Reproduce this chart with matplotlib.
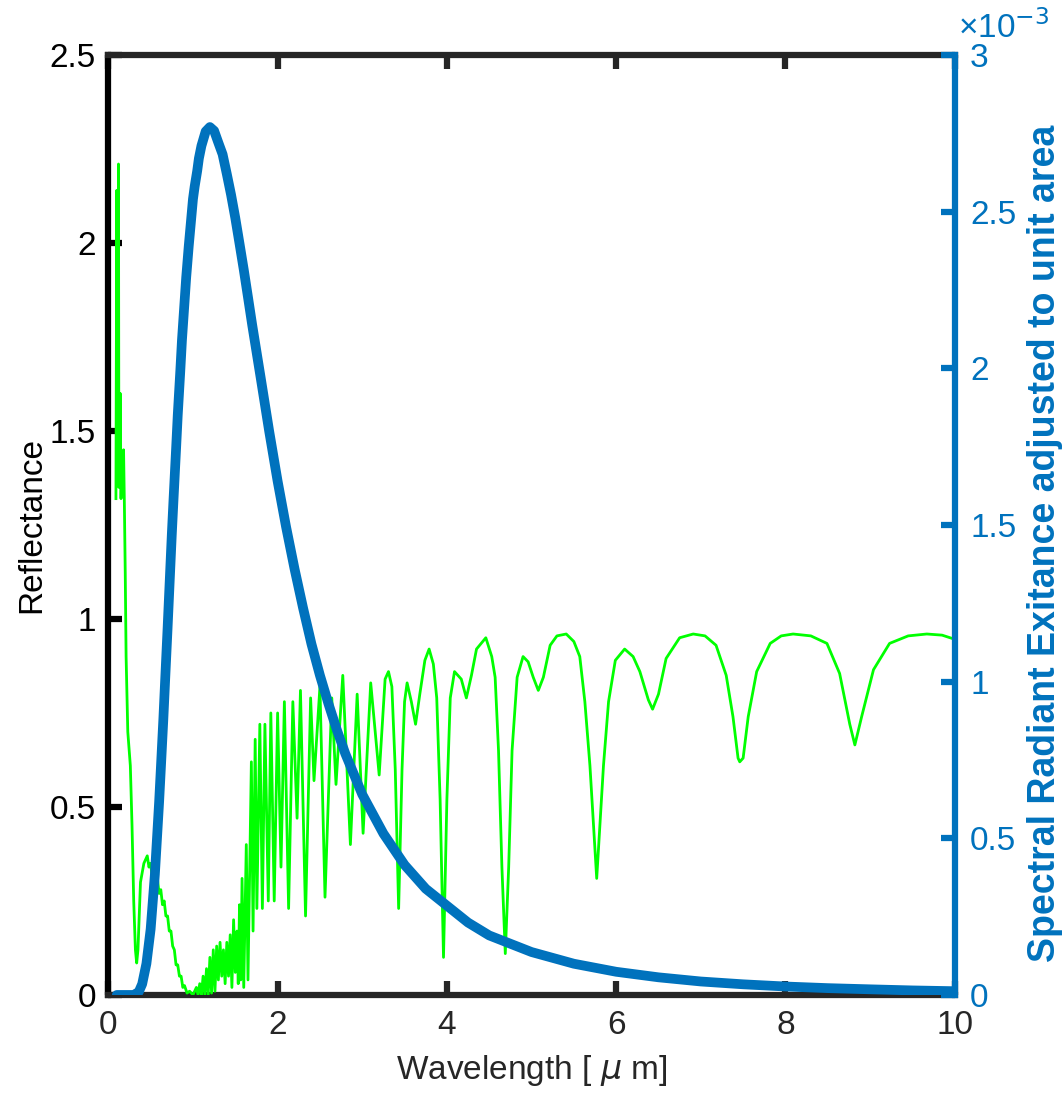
import matplotlib
matplotlib.use("Agg")
import matplotlib.pyplot as plt
from matplotlib.ticker import FuncFormatter

plt.rcParams["font.family"] = ["Liberation Sans", "DejaVu Sans"]

# reflectance (green)
wl_refl = [
    0.09, 0.10, 0.105, 0.11, 0.12, 0.125, 0.13, 0.14, 0.15, 0.16, 0.17, 0.18, 0.19,
    0.20, 0.21, 0.23, 0.26, 0.28, 0.30, 0.32, 0.335, 0.35, 0.38, 0.42, 0.46, 0.48,
    0.50, 0.52, 0.54, 0.56, 0.58, 0.60, 0.62, 0.64, 0.66, 0.68, 0.70, 0.72, 0.74,
    0.76, 0.78, 0.80, 0.82, 0.84, 0.86, 0.88, 0.90, 0.93, 0.96, 1.00,
    1.04, 1.06, 1.08, 1.10, 1.12, 1.14, 1.16, 1.18, 1.20, 1.22, 1.24, 1.26, 1.28,
    1.30, 1.32, 1.34, 1.36, 1.38, 1.40, 1.42, 1.44, 1.46, 1.48, 1.50, 1.52, 1.535,
    1.55, 1.565, 1.58, 1.60, 1.63, 1.65,
    1.69, 1.71, 1.735, 1.755, 1.79, 1.82, 1.85, 1.89, 1.92, 1.96, 2.00, 2.04, 2.08,
    2.13, 2.18, 2.23, 2.27, 2.33, 2.39, 2.43, 2.50, 2.56, 2.64, 2.69, 2.77, 2.86,
    2.94, 3.01, 3.10, 3.20, 3.27, 3.31, 3.35, 3.39, 3.43, 3.47, 3.50, 3.53, 3.58,
    3.63, 3.68, 3.74, 3.79, 3.84, 3.88, 3.92, 3.96, 4.00, 4.04, 4.09, 4.17, 4.23,
    4.29, 4.35, 4.46, 4.53, 4.57, 4.61, 4.65, 4.69, 4.73, 4.77, 4.83, 4.90, 4.96,
    5.02, 5.08, 5.14, 5.22, 5.30, 5.41, 5.50, 5.57, 5.63, 5.69, 5.77, 5.85, 5.91,
    5.99, 6.10, 6.20, 6.28, 6.38, 6.43, 6.50, 6.59, 6.75, 6.91, 7.05, 7.18, 7.30,
    7.38, 7.44, 7.46, 7.50, 7.56, 7.66, 7.82, 7.95, 8.09, 8.30, 8.49, 8.64, 8.76,
    8.82, 8.90, 9.04, 9.23, 9.45, 9.67, 9.85, 10.0,
]
reflectance = [
    1.32, 2.14, 1.40, 1.36, 2.21, 1.35, 1.38, 1.60, 1.32, 1.44, 1.35, 1.45, 1.30,
    1.12, 0.90, 0.70, 0.61, 0.45, 0.25, 0.12, 0.085, 0.12, 0.30, 0.35, 0.37, 0.34,
    0.35, 0.31, 0.32, 0.29, 0.31, 0.27, 0.28, 0.24, 0.25, 0.21, 0.21, 0.17, 0.17,
    0.13, 0.12, 0.08, 0.08, 0.05, 0.05, 0.02, 0.025, 0.005, 0.01, 0.0,
    0.02, 0.0, 0.03, 0.0, 0.05, 0.0, 0.07, 0.0, 0.10, 0.005, 0.12, 0.01, 0.13,
    0.04, 0.14, 0.05, 0.12, 0.03, 0.14, 0.05, 0.16, 0.02, 0.20, 0.06, 0.17, 0.03,
    0.24, 0.04, 0.31, 0.02, 0.40, 0.04,
    0.62, 0.17, 0.68, 0.23, 0.72, 0.23, 0.72, 0.25, 0.75, 0.25, 0.75, 0.34, 0.78,
    0.23, 0.78, 0.47, 0.81, 0.21, 0.79, 0.57, 0.82, 0.26, 0.79, 0.56, 0.85, 0.40,
    0.80, 0.43, 0.83, 0.585, 0.84, 0.86, 0.82, 0.60, 0.23, 0.60, 0.78, 0.83, 0.78,
    0.72, 0.80, 0.89, 0.92, 0.88, 0.79, 0.52, 0.10, 0.52, 0.79, 0.86, 0.84, 0.79,
    0.85, 0.92, 0.95, 0.90, 0.845, 0.65, 0.34, 0.11, 0.34, 0.65, 0.845, 0.90, 0.886,
    0.845, 0.81, 0.845, 0.93, 0.955, 0.96, 0.94, 0.90, 0.78, 0.61, 0.31, 0.61, 0.78,
    0.89, 0.92, 0.90, 0.86, 0.785, 0.76, 0.80, 0.895, 0.95, 0.96, 0.955, 0.93, 0.85,
    0.74, 0.63, 0.62, 0.63, 0.74, 0.86, 0.935, 0.955, 0.96, 0.955, 0.935, 0.855, 0.72,
    0.665, 0.74, 0.865, 0.935, 0.955, 0.96, 0.957, 0.946,
]

# spectral radiant exitance (blue), in units of 1e-3
wl_exit = [
    0.10, 0.30, 0.36, 0.40, 0.45, 0.50, 0.55, 0.60, 0.62, 0.65, 0.67, 0.70, 0.72,
    0.75, 0.77, 0.80, 0.82, 0.85, 0.87, 0.90, 0.92, 0.95, 0.97, 1.00, 1.02, 1.05,
    1.07, 1.10, 1.15, 1.20, 1.25, 1.30, 1.35, 1.40, 1.45, 1.50, 1.55, 1.60, 1.65,
    1.70, 1.80, 1.90, 2.00, 2.10, 2.20, 2.30, 2.40, 2.50, 2.60, 2.70, 2.80, 3.00,
    3.25, 3.50, 3.75, 4.00, 4.25, 4.50, 5.00, 5.50, 6.00, 6.50, 7.00, 7.50, 8.00,
    8.50, 9.00, 9.50, 10.0,
]
exitance = [
    0.0, 0.0, 0.01, 0.035, 0.10, 0.21, 0.385, 0.615, 0.72, 0.88, 0.997, 1.17, 1.29,
    1.47, 1.58, 1.74, 1.85, 1.99, 2.09, 2.21, 2.29, 2.39, 2.45, 2.54, 2.58, 2.63,
    2.67, 2.71, 2.756, 2.77, 2.758, 2.72, 2.683, 2.62, 2.554, 2.48, 2.398, 2.315, 2.227,
    2.138, 1.97, 1.80, 1.64, 1.494, 1.36, 1.236, 1.12, 1.02, 0.93, 0.846, 0.77, 0.64,
    0.515, 0.415, 0.339, 0.285, 0.231, 0.19, 0.137, 0.0997, 0.074, 0.0563, 0.043, 0.034, 0.027,
    0.0218, 0.018, 0.0145, 0.012,
]

blue = "#0072BD"
dark = "#262626"

fig = plt.figure(figsize=(10.62, 10.93), dpi=100)
ax = fig.add_axes([0.102, 0.0897, 0.797, 0.860])
ax2 = ax.twinx()

ax.plot(wl_refl, reflectance, color="#00FF00", lw=2.0, zorder=3)
ax2.plot(wl_exit, exitance, color=blue, lw=7, solid_capstyle="round",
         solid_joinstyle="round")

ax.set_xlim(0, 10)
ax.set_ylim(0, 2.5)
ax2.set_ylim(0, 3)
ax.set_xticks([0, 2, 4, 6, 8, 10])
ax.set_yticks([0, 0.5, 1, 1.5, 2, 2.5])
ax2.set_yticks([0, 0.5, 1, 1.5, 2, 2.5, 3])
fmt = FuncFormatter(lambda v, p: "%g" % v)
ax.yaxis.set_major_formatter(fmt)
ax2.yaxis.set_major_formatter(fmt)
ax.xaxis.set_major_formatter(fmt)

for a in (ax, ax2):
    for s in a.spines.values():
        s.set_linewidth(4.5)
ax.spines["left"].set_color("black")
ax.spines["bottom"].set_color(dark)
ax.spines["top"].set_color(dark)
ax2.spines["right"].set_color(blue)
ax2.spines["left"].set_visible(False)
ax2.spines["top"].set_visible(False)
ax2.spines["bottom"].set_visible(False)
ax.spines["right"].set_visible(False)

ax.tick_params(axis="y", direction="in", length=10, width=4.5, colors="black",
               labelsize=24, pad=9)
ax.tick_params(axis="x", direction="in", length=10, width=4.5, colors=dark,
               labelsize=24, pad=11, top=True)
ax2.tick_params(axis="y", direction="in", length=10, width=4.5, colors=blue,
                labelsize=24, pad=11)

ax.set_xlabel("Wavelength [ $\\mu$ m]", fontsize=24, color=dark)
ax.xaxis.set_label_coords(0.5, -0.062)
ax.set_ylabel("Reflectance", fontsize=24, color="black")
ax.yaxis.set_label_coords(-0.072, 0.5)
ax2.set_ylabel("Spectral Radiant Exitance adjusted to unit area", fontsize=27,
               color=blue, fontweight="bold")
ax2.yaxis.set_label_coords(1.085, 0.48)
ax2.text(1.004, 1.011, "\u00d710$^{-3}$", transform=ax2.transAxes, color=blue,
         fontsize=24, ha="left", va="bottom")

fig.savefig("out.png", dpi=100)
